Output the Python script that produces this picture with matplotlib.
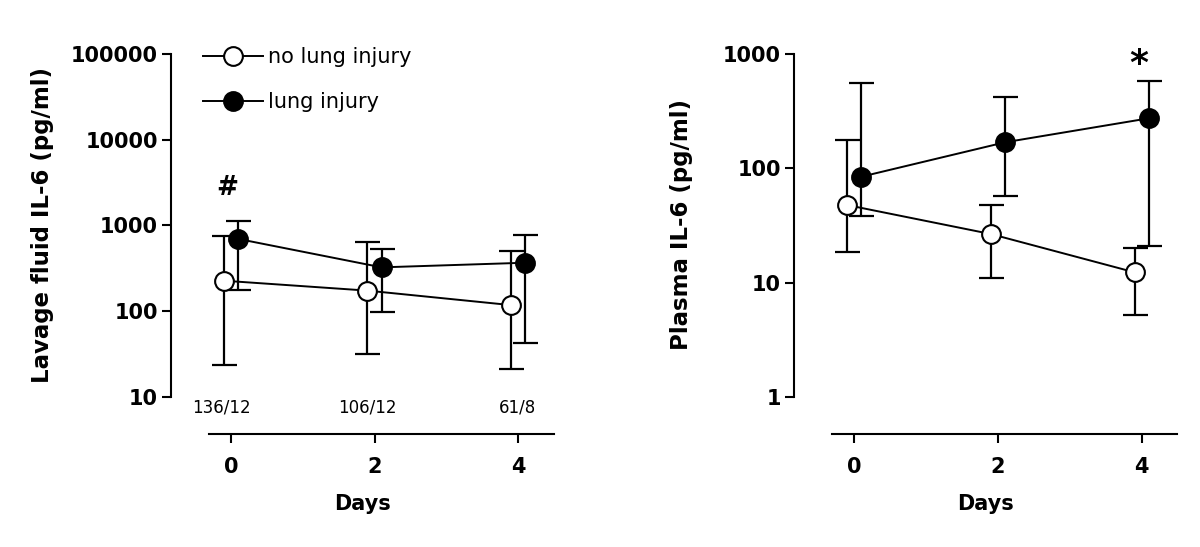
import matplotlib
matplotlib.use("Agg")
import matplotlib.pyplot as plt
import numpy as np

# days and per-group offsets
days = [0, 2, 4]

# lavage fluid IL-6 (pg/ml)
lav_no = [227, 174, 118]
lav_no_lo = [23.6, 31.6, 21]
lav_no_hi = [755, 645, 508]
lav_inj = [697, 325, 368]
lav_inj_lo = [175, 99, 43]
lav_inj_hi = [1127, 537, 781]
lav_counts = ["136/12", "106/12", "61/8"]

# plasma IL-6 (pg/ml)
pla_no = [47.7, 26.6, 12.3]
pla_no_lo = [18.4, 11, 5.2]
pla_no_hi = [176, 48, 20.2]
pla_inj = [84.5, 169, 274]
pla_inj_lo = [38, 57.5, 20.8]
pla_inj_hi = [561, 424, 577]

W, H = 1200, 547
fig = plt.figure(figsize=(12, 5.47), dpi=100)


def make_axes(left_px, right_px, top_px, bottom_px):
    return fig.add_axes([left_px / W, 1 - bottom_px / H,
                         (right_px - left_px) / W, (bottom_px - top_px) / H])


def draw_panel(ax, no, no_lo, no_hi, inj, inj_lo, inj_hi):
    x = np.array(days, dtype=float)
    err_kw = dict(fmt="none", ecolor="black", elinewidth=1.6,
                  capsize=9, capthick=1.6)
    no = np.array(no); inj = np.array(inj)
    ax.errorbar(x - 0.1, no, yerr=[no - np.array(no_lo), np.array(no_hi) - no],
                zorder=2, **err_kw)
    ax.errorbar(x + 0.1, inj, yerr=[inj - np.array(inj_lo), np.array(inj_hi) - inj],
                zorder=2, **err_kw)
    h1, = ax.plot(x - 0.1, no, "-o", color="black", lw=1.4, ms=13.5,
                  mfc="white", mec="black", mew=1.5, zorder=3,
                  label="no lung injury")
    h2, = ax.plot(x + 0.1, inj, "-o", color="black", lw=1.4, ms=13.5,
                  mfc="black", mec="black", mew=1.5, zorder=4,
                  label="lung injury")
    ax.set_yscale("log")
    ax.set_xticks(days)
    ax.spines["top"].set_visible(False)
    ax.spines["right"].set_visible(False)
    for s in ("left", "bottom"):
        ax.spines[s].set_linewidth(1.5)
    ax.tick_params(axis="both", which="major", length=6.5, width=1.5,
                   labelsize=15, pad=3)
    ax.tick_params(axis="x", pad=10)
    ax.tick_params(axis="y", which="minor", length=0)
    for lab in ax.get_xticklabels() + ax.get_yticklabels():
        lab.set_fontweight("bold")
    ax.set_xlabel("Days", fontsize=15, fontweight="bold", labelpad=12)
    ax.patch.set_visible(False)
    return h1, h2


# left panel: lavage fluid
ax1 = make_axes(171, 554, 54, 434)
h1, h2 = draw_panel(ax1, lav_no, lav_no_lo, lav_no_hi,
                    lav_inj, lav_inj_lo, lav_inj_hi)
ax1.set_xlim(-0.839, 4.503)
ax1.set_ylim(10 ** 0.5685, 1e5)
ax1.spines["left"].set_bounds(10, 1e5)
ax1.spines["bottom"].set_bounds(-0.308, 4.503)
ax1.set_yticks([10, 100, 1000, 10000, 100000])
ax1.set_yticklabels(["10", "100", "1000", "10000", "100000"], fontweight="bold")
ax1.set_ylabel("Lavage fluid IL-6 (pg/ml)", fontsize=16.5, fontweight="bold")
ax1.yaxis.set_label_coords(-0.306, 0.55)
for xp, t in zip([-0.13, 1.9, 3.99], lav_counts):
    ax1.text(xp, 7.6, t, ha="center", va="center", fontsize=12)
ax1.text(-0.06, 2735, "#", ha="center", va="center", fontsize=19,
         fontweight="bold")
ax1.legend([h1, h2], ["no lung injury", "lung injury"], loc="upper left",
           bbox_to_anchor=(203 / W, 1 - 47 / H), bbox_transform=fig.transFigure,
           frameon=False, fontsize=15, handlelength=2.9, handletextpad=0.2,
           labelspacing=1.2, borderpad=0, borderaxespad=0)

# right panel: plasma
ax2 = make_axes(794, 1177, 54, 434)
draw_panel(ax2, pla_no, pla_no_lo, pla_no_hi, pla_inj, pla_inj_lo, pla_inj_hi)
ax2.set_xlim(-0.839, 4.49)
ax2.set_ylim(10 ** -0.3246, 1000)
ax2.spines["left"].set_bounds(1, 1000)
ax2.spines["bottom"].set_bounds(-0.308, 4.49)
ax2.set_yticks([1, 10, 100, 1000])
ax2.set_yticklabels(["1", "10", "100", "1000"], fontweight="bold")
ax2.set_ylabel("Plasma IL-6 (pg/ml)", fontsize=16.5, fontweight="bold")
ax2.yaxis.set_label_coords(-0.265, 0.55)
ax2.text(3.96, 820, "*", ha="center", va="center", fontsize=26,
         fontweight="bold")

fig.savefig("out.png", dpi=100)
